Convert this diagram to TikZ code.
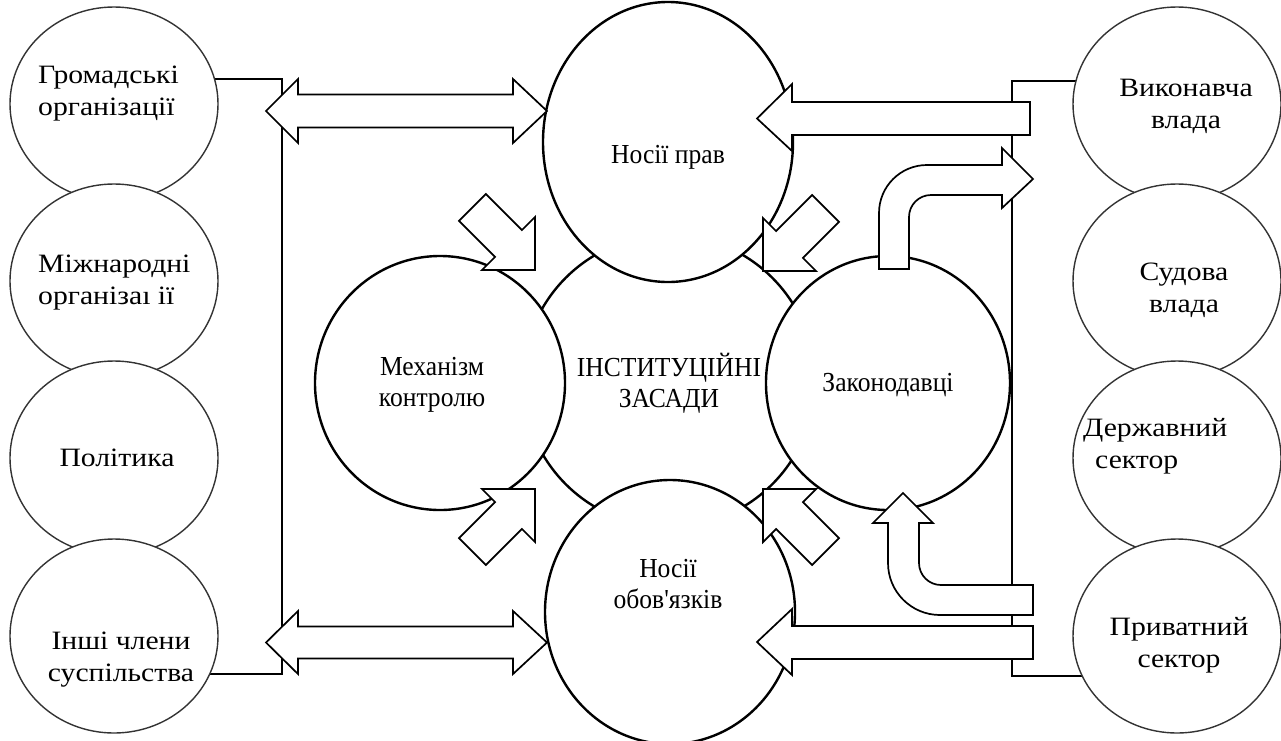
\documentclass[tikz,border=0pt]{standalone}
\usepackage{fontspec}
\setmainfont{Liberation Serif}
\newfontfamily\sidefont{Liberation Serif}[FakeStretch=1.12]
\newfontfamily\ctrfont{Liberation Serif}[FakeStretch=0.93]
\usetikzlibrary{shapes.geometric}
\begin{document}
\begin{tikzpicture}[x=1pt,y=-1pt,
  ring/.style={ellipse, draw=black, line width=2.4pt, fill=white, inner sep=0pt, minimum width=250pt, minimum height=254pt},
  side/.style={ellipse, draw=black!80, line width=1.4pt, fill=white, inner sep=0pt, minimum width=208pt, minimum height=194pt},
  blk/.style={draw=black, line width=1.7pt, fill=white, line join=miter},
  brk/.style={draw=black, line width=1.7pt},
  stxt/.style={font=\sidefont\fontsize{26.5}{32}\selectfont, align=left, inner sep=0pt},
  sctr/.style={font=\sidefont\fontsize{26.5}{32}\selectfont, align=center, inner sep=0pt},
  ctxt/.style={font=\ctrfont\fontsize{27.5}{31}\selectfont, align=center, inner sep=0pt}]
\useasboundingbox (0,0) rectangle (1281,740);
\fill[white] (0,0) rectangle (1281,740);

% bracket corner points
\coordinate (lt) at (282,79);
\coordinate (lb) at (282,674);
\coordinate (rt) at (1012,81);
\coordinate (rb) at (1012,676);
\coordinate (g1c) at (114,104);
\coordinate (g4c) at (114,636);
\coordinate (r1c) at (1177,104);
\coordinate (r4c) at (1177,636);
\draw[brk] (g1c |- lt) -- (lt) -- (lb) -- (g4c |- lb);
\draw[brk] (r1c |- rt) -- (rt) -- (rb) -- (r4c |- rb);

% side ellipses
\node[side] (g1) at (g1c) {};
\node[side] (g2) at (114,281) {};
\node[side] (g3) at (114,458) {};
\node[side] (g4) at (g4c) {};
\node[side] (r1) at (r1c) {};
\node[side] (r2) at (1177,281) {};
\node[side] (r3) at (1177,458) {};
\node[side] (r4) at (r4c) {};

% central circles
\node[ring, minimum width=292pt, minimum height=292pt] (mid) at (669,381) {};
\node[ring, minimum height=280pt] (top) at (668,142) {};
\node[ring] (lft) at (440,383) {};
\node[ring, minimum width=244pt] (rgt) at (888,383) {};
\node[ring, minimum height=264pt] (bot) at (670,612) {};

% double arrows (left)
\draw[blk] (266,111) -- (298,79) -- (298,94.5) -- (513,94.5) -- (513,79) -- (547,111)
  -- (513,143) -- (513,127.5) -- (298,127.5) -- (298,143) -- cycle;
\draw[blk] (266,642.5) -- (298,611) -- (298,626.5) -- (513,626.5) -- (513,611) -- (547,642.5)
  -- (513,674) -- (513,658.5) -- (298,658.5) -- (298,674) -- cycle;

% right arrows
\draw[blk] (757,118.5) -- (792,84) -- (792,102) -- (1030,102) -- (1030,135) -- (792,135) -- (792,151) -- cycle;
\draw[blk] (757,642) -- (792,609) -- (792,626) -- (1033,626) -- (1033,659) -- (792,659) -- (792,675) -- cycle;

% curved arrow up-right
\draw[blk] (879,269) -- (879,213) arc[start angle=180, end angle=270, radius=48]
  -- (1002,165) -- (1002,148) -- (1033,179) -- (1002,208) -- (1002,195) -- (931,195)
  arc[start angle=270, end angle=180, radius=22] -- (909,269) -- cycle;

% curved arrow right-up
\draw[blk] (903,493) -- (933,523) -- (919,523) -- (919,563)
  arc[start angle=180, end angle=90, radius=22] -- (1033,585) -- (1033,615) -- (940,615)
  arc[start angle=90, end angle=180, radius=52] -- (888,523) -- (873,523) -- cycle;

% diagonal arrows
\foreach \tx/\ty/\ang in {535/270/-45, 763/271/-135, 535/489/45, 763/489/135}{
  \begin{scope}[shift={(\tx,\ty)}, rotate=\ang]
    \draw[blk] (0,0) -- (-37.5,37.5) -- (-37.5,19) -- (-88.5,19) -- (-88.5,-19) -- (-37.5,-19) -- (-37.5,-37.5) -- cycle;
  \end{scope}
}

% texts
\node[stxt, anchor=west] (tg1) at (38,94) {Громадські\\організації};
\node[stxt, anchor=west] (tg2) at (38,283) {Міжнародні\\організаı ії};
\node[sctr] (tg3) at (117,458) {Політика};
\node[sctr] (tg4) at (121,660) {Інші члени\\суспільства};
\node[sctr] (tr1) at (1186,106) {Виконавча\\влада};
\node[sctr] (tr2) at (1184,290) {Судова\\влада};
\node[stxt, anchor=west] (tr3) at (1083,446) {Державний\\\hspace*{12pt}сектор};
\node[sctr] (tr4) at (1179,645) {Приватний\\сектор};

\node[ctxt] (tmid) at (669,383) {ІНСТИТУЦІЙНІ\\ЗАСАДИ};
\node[ctxt] (ttop) at (668,157) {Носії прав};
\node[ctxt] (tlft) at (432,385) {Механізм\\контролю};
\node[ctxt] (trgt) at (888,385) {Законодавці};
\node[ctxt] (tbot) at (668,584) {Носії\\обов'язків};
\end{tikzpicture}
\end{document}
